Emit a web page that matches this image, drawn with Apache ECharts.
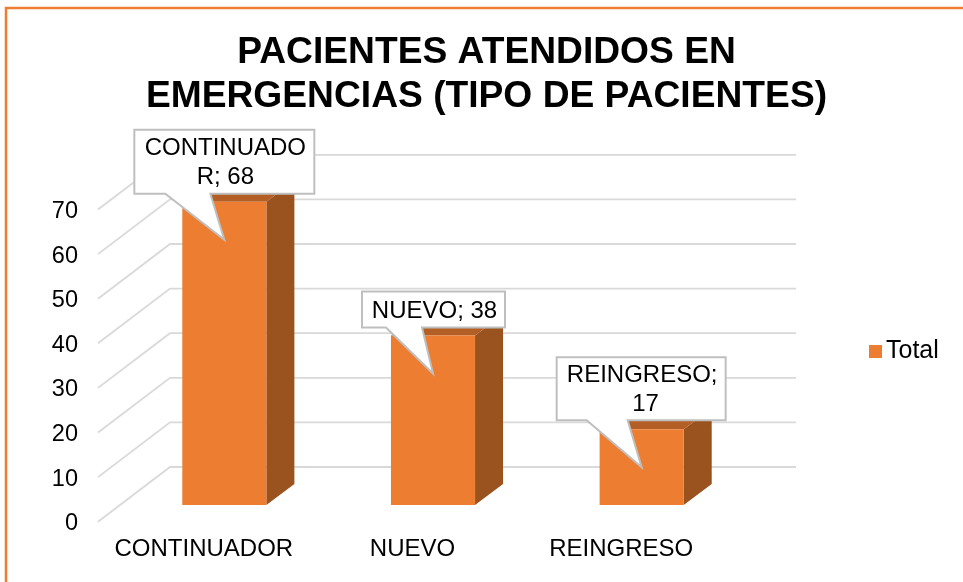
<!DOCTYPE html>
<html>
<head>
<meta charset="utf-8">
<style>
html, body { margin: 0; padding: 0; background: #fff; }
#chart { width: 963px; height: 582px; }
</style>
<script src="https://cdn.jsdelivr.net/npm/echarts@6/dist/echarts.min.js"></script>
</head>
<body>
<div id="chart"></div>
<script>
const titleText = 'PACIENTES ATENDIDOS EN\nEMERGENCIAS (TIPO DE PACIENTES)';
const categories = ['CONTINUADOR', 'NUEVO', 'REINGRESO'];
const values = [68, 38, 17];
const yTicks = [0, 10, 20, 30, 40, 50, 60, 70];
const seriesName = 'Total';

const font = '"Liberation Sans", Arial, sans-serif';
const orange = '#ED7D31';

// fake 3D offsets, px
const wallDx = 72, wallDy = -54.7;   // axis plane to back wall
const barDx = 22, barDy = -16.7;     // axis plane to bar front
const depthDx = 28, depthDy = -21;   // bar front to bar back
const barRatio = 0.403;

// callout boxes, relative to the pointer tip: left, top, width, height, then pointer base
const calloutLayout = [
  { l: -90, t: -110, w: 180, h: 64, a: -59, b: -14 },
  { l: -71, t: -82, w: 143, h: 36, a: -47, b: -11 },
  { l: -85, t: -110, w: 169, h: 63, a: -55, b: -14 }
];
const tipDown = 38;

function wallItem(params, api) {
  const cs = params.coordSys;
  const y = api.coord([0, api.value(1)])[1];
  const x0 = cs.x, x1 = cs.x + wallDx, x2 = cs.x + cs.width + wallDx;
  return {
    type: 'polyline',
    shape: { points: [[x0, y], [x1, y + wallDy], [x2, y + wallDy]] },
    style: { fill: null, stroke: '#D9D9D9', lineWidth: 1.8 }
  };
}

function barItem(params, api) {
  const top = api.coord([api.value(0), api.value(1)]);
  const base = api.coord([api.value(0), 0]);
  const w = api.size([1, 0])[0] * barRatio;
  const l = top[0] + barDx - w / 2, r = l + w;
  const t = top[1] + barDy, b = base[1] + barDy;
  return {
    type: 'group',
    children: [
      { type: 'polygon', shape: { points: [[r, t], [r + depthDx, t + depthDy], [r + depthDx, b + depthDy], [r, b]] }, style: { fill: '#9A521F' } },
      { type: 'polygon', shape: { points: [[l, t], [l + depthDx, t + depthDy], [r + depthDx, t + depthDy], [r, t]] }, style: { fill: '#B25E24' } },
      { type: 'rect', shape: { x: l, y: t, width: w, height: b - t }, style: { fill: orange } }
    ]
  };
}

function calloutItem(params, api) {
  const i = params.dataIndex;
  const c = calloutLayout[i];
  const top = api.coord([api.value(0), api.value(1)]);
  const tx = top[0] + barDx, ty = top[1] + barDy + tipDown;
  const x = tx + c.l, y = ty + c.t, bot = y + c.h;
  return {
    type: 'group',
    children: [
      {
        type: 'polygon',
        shape: { points: [[x, y], [x + c.w, y], [x + c.w, bot], [tx + c.b, bot], [tx, ty], [tx + c.a, bot], [x, bot]] },
        style: { fill: '#fff', stroke: '#BFBFBF', lineWidth: 2 }
      },
      {
        type: 'text',
        style: {
          x: x + c.w / 2 + 1, y: y + c.h / 2 + 1.5,
          text: categories[i] + '; ' + api.value(1),
          width: c.w - 12, overflow: 'break',
          align: 'center', verticalAlign: 'middle',
          fontFamily: font, fontSize: 24, lineHeight: 29, fill: '#000'
        }
      }
    ]
  };
}

const chart = echarts.init(document.getElementById('chart'), null, { renderer: 'canvas' });
chart.setOption({
  animation: false,
  backgroundColor: '#fff',
  graphic: [{
    type: 'rect', silent: true, z: -1,
    shape: { x: 6, y: 8, width: 1000, height: 1000 },
    style: { fill: null, stroke: orange, lineWidth: 2.5 }
  }],
  title: {
    text: titleText, left: 481.5, top: 26, textAlign: 'center',
    textStyle: { fontFamily: font, fontSize: 37.2, fontWeight: 'bold', color: '#000', lineHeight: 44 }
  },
  legend: {
    data: [{ name: seriesName, icon: 'rect', itemStyle: { color: orange } }],
    left: 869, top: 339, padding: 0, itemWidth: 13, itemHeight: 13, itemGap: 0,
    textStyle: { fontFamily: font, fontSize: 25, color: '#000', padding: [0, 0, 0, -1] }
  },
  grid: { left: 98, right: 239, top: 209.5, bottom: 60.3 },
  xAxis: {
    type: 'category', data: categories,
    axisLine: { show: false }, axisTick: { show: false },
    axisLabel: { fontFamily: font, fontSize: 24, color: '#000', margin: 16, interval: 0, padding: [0, 0, 0, 3] }
  },
  yAxis: {
    type: 'value', min: 0, max: 70, interval: 10,
    axisLine: { show: false }, axisTick: { show: false }, splitLine: { show: false },
    axisLabel: {
      color: '#000', margin: 20, formatter: '{n|{value}}',
      rich: { n: { fontFamily: font, fontSize: 23.5, color: '#000', padding: [4, 0, 0, 0] } }
    }
  },
  series: [
    {
      type: 'custom', name: 'walls', renderItem: wallItem, clip: false, z: 1, silent: true,
      data: yTicks.map(v => [0, v])
    },
    {
      type: 'custom', name: seriesName, renderItem: barItem, clip: false, z: 2,
      itemStyle: { color: orange },
      data: categories.map((c, i) => [i, values[i]])
    },
    {
      type: 'custom', name: 'callouts', renderItem: calloutItem, clip: false, z: 3, silent: true,
      data: categories.map((c, i) => [i, values[i]])
    }
  ]
});
</script>
</body>
</html>
